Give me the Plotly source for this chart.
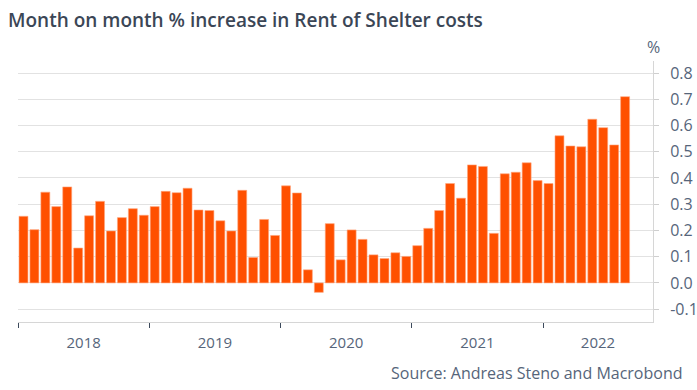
import plotly.graph_objects as go
import pandas as pd

# Data
months = [str(p) for p in pd.period_range("2018-01", periods=56, freq="M")]
values = [
    0.254, 0.203, 0.346, 0.291, 0.366, 0.133, 0.256, 0.311, 0.198, 0.249, 0.283, 0.258,
    0.291, 0.349, 0.344, 0.361, 0.278, 0.276, 0.237, 0.198, 0.353, 0.097, 0.242, 0.181,
    0.370, 0.343, 0.050, -0.036, 0.226, 0.088, 0.202, 0.166, 0.107, 0.093, 0.115, 0.101,
    0.142, 0.208, 0.276, 0.379, 0.323, 0.450, 0.444, 0.189, 0.416, 0.422, 0.458, 0.390,
    0.379, 0.561, 0.522, 0.519, 0.624, 0.592, 0.526, 0.710,
]
year_labels = ["2018", "2019", "2020", "2021", "2022"]
y_ticks = [-0.1, 0.0, 0.1, 0.2, 0.3, 0.4, 0.5, 0.6, 0.7, 0.8]
y_tick_labels = ["-0.1", "0.0", "0.1", "0.2", "0.3", "0.4", "0.5", "0.6", "0.7", "0.8"]

# month index positions
start = pd.Period(months[0], freq="M")
x = [(pd.Period(m, freq="M") - start).n for m in months]

x_min, x_max = -0.5, 57.55
boundaries = [12 * i - 0.5 for i in range(len(year_labels))]
label_pos = []
for i, b in enumerate(boundaries):
    e = boundaries[i + 1] if i + 1 < len(boundaries) else x_max
    label_pos.append((b + min(e, x_max)) / 2)

text_col = "#56657a"
grid_col = "#e2e2e2"

W, H = 697, 390

fig = go.Figure(
    go.Bar(
        x=x, y=values,
        marker=dict(color="#ff5000", line=dict(color="#ffa780", width=0.6)),
        hoverinfo="skip",
    )
)

fig.update_layout(
    width=W, height=H,
    margin=dict(l=18, r=44, t=61, b=68, pad=0),
    paper_bgcolor="white", plot_bgcolor="white",
    bargap=0.18,
    showlegend=False,
    font=dict(family="Open Sans", color=text_col, size=15),
    title=dict(
        text="Month on month % increase in Rent of Shelter costs",
        x=8 / W, xanchor="left", xref="container",
        y=1 - 20.5 / H, yanchor="middle", yref="container",
        font=dict(family="Open Sans", size=19, color="#3b4656", weight=600),
    ),
    annotations=[
        dict(text="%", xref="paper", yref="paper", x=1.0, y=1.0, yshift=14.5,
             xanchor="center", yanchor="middle", showarrow=False,
             font=dict(size=16, color=text_col)),
        dict(text="Source: Andreas Steno and Macrobond", xref="paper", yref="paper",
             x=1.0, xshift=32, y=0, yshift=-51, xanchor="right", yanchor="middle",
             showarrow=False, font=dict(size=16, color=text_col)),
    ],
)

fig.update_xaxes(
    range=[x_min, x_max],
    automargin=False,
    tickmode="array", tickvals=label_pos, ticktext=year_labels,
    ticks="outside", ticklen=7, tickcolor="rgba(0,0,0,0)",
    showgrid=False, zeroline=False,
    showline=True, linecolor="#d6d6d6", linewidth=1,
    minor=dict(tickmode="array", tickvals=boundaries, ticks="outside",
               ticklen=5, tickcolor="#3d4a5c", tickwidth=1, showgrid=False),
    tickfont=dict(size=15, color=text_col),
)

fig.update_yaxes(
    side="right",
    automargin=False,
    range=[-0.149, 0.846],
    tickmode="array", tickvals=y_ticks, ticktext=y_tick_labels,
    ticks="outside", ticklen=5, tickcolor="#cfcfcf",
    showgrid=True, gridcolor=grid_col, gridwidth=1,
    zeroline=False,
    showline=True, linecolor="#d6d6d6", linewidth=1,
    ticklabelstandoff=8,
    tickfont=dict(size=16, color=text_col),
)

fig.write_html(
    "out.html",
    config={"responsive": False, "displayModeBar": False},
    post_script="document.body.style.margin='0';document.body.style.padding='0';",
)
